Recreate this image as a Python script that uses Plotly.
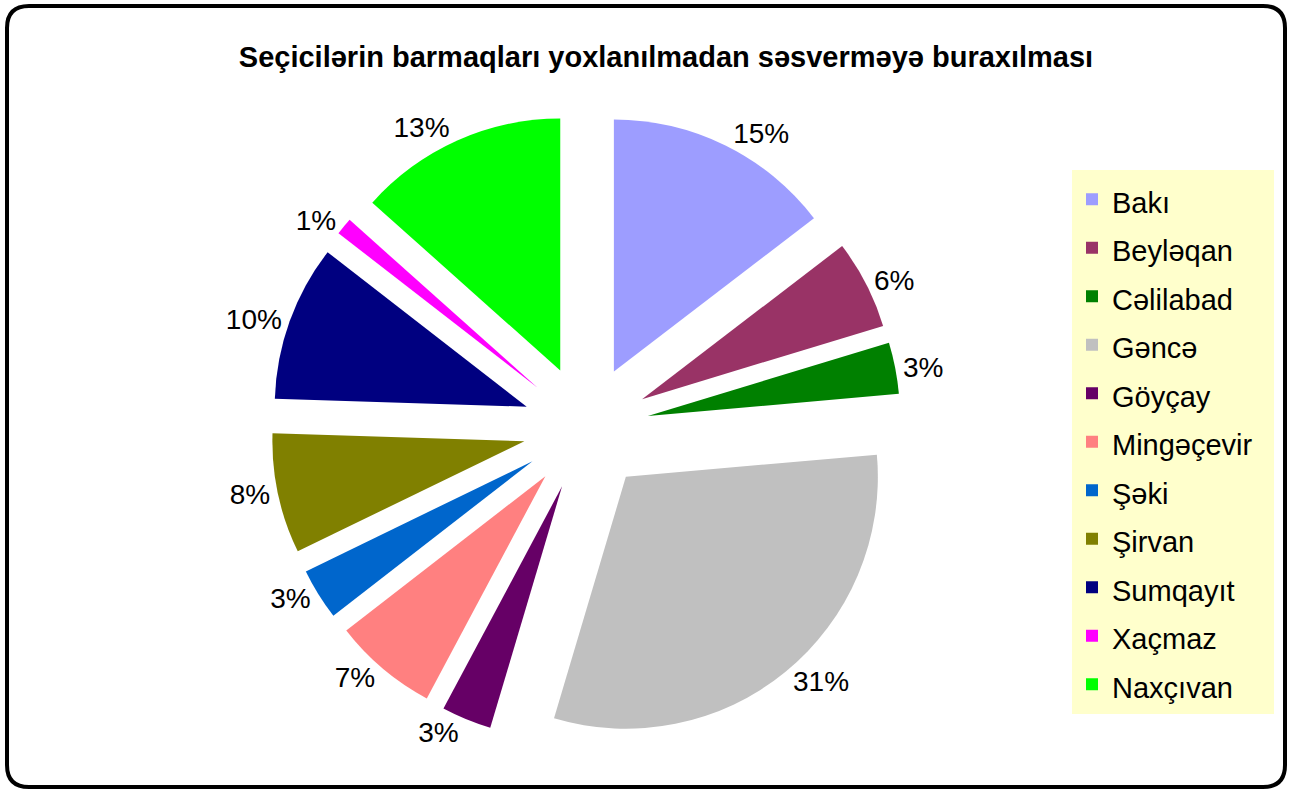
import plotly.graph_objects as go

W, H = 1291, 793

# ---- data ----
regions = ["Bakı", "Beyləqan", "Cəlilabad", "Gəncə", "Göyçay", "Mingəçevir",
           "Şəki", "Şirvan", "Sumqayıt", "Xaçmaz", "Naxçıvan"]
shares = [14.6, 5.7, 3.3, 31.0, 3.2, 6.7, 3.3, 7.7, 10.0, 1.1, 13.4]
colors = ["#9D9DFF", "#993366", "#008000", "#C0C0C0", "#660066", "#FF8080",
          "#0066CC", "#808000", "#000080", "#FF00FF", "#00FF00"]
title_text = "Seçicilərin barmaqları yoxlanılmadan səsverməyə buraxılması"

FONT = "Liberation Sans, Arial, sans-serif"


def px(x):
    return x / W


def py(y):
    return 1 - y / H


legend_labels = ["<span style='font-size:29px'>%s&nbsp;&nbsp;</span>" % r for r in regions]

fig = go.Figure()
fig.add_trace(go.Pie(
    labels=legend_labels,
    values=shares,
    marker=dict(colors=colors, line=dict(width=0)),
    sort=False,
    direction="clockwise",
    rotation=0,
    pull=[0.25] * len(shares),
    texttemplate="%{percent:.0%}",
    textposition="outside",
    textfont=dict(family=FONT, size=28, color="black"),
    domain=dict(x=[px(271), px(901)], y=[py(743), py(113)]),
    hoverinfo="label+percent",
    showlegend=True,
))

# rounded outer border
x0, y0, x1, y1 = 7, 6, 1285, 787
r = 22
path = (
    f"M {px(x0 + r)},{py(y0)} L {px(x1 - r)},{py(y0)} "
    f"Q {px(x1)},{py(y0)} {px(x1)},{py(y0 + r)} "
    f"L {px(x1)},{py(y1 - r)} Q {px(x1)},{py(y1)} {px(x1 - r)},{py(y1)} "
    f"L {px(x0 + r)},{py(y1)} Q {px(x0)},{py(y1)} {px(x0)},{py(y1 - r)} "
    f"L {px(x0)},{py(y0 + r)} Q {px(x0)},{py(y0)} {px(x0 + r)},{py(y0)} Z"
)

fig.update_layout(
    width=W, height=H,
    margin=dict(l=0, r=0, t=0, b=0, autoexpand=False),
    paper_bgcolor="white",
    plot_bgcolor="white",
    font=dict(family=FONT, color="black"),
    title=dict(
        text="<b>%s</b>" % title_text,
        x=px(666), y=py(57), xanchor="center", yanchor="middle",
        font=dict(family=FONT, size=29, color="black"),
    ),
    legend=dict(
        x=px(1072), y=py(170), xanchor="left", yanchor="top",
        bgcolor="#FFFFCC", borderwidth=0,
        font=dict(family=FONT, size=35, color="black"),
        traceorder="normal",
    ),
    shapes=[dict(type="path", xref="paper", yref="paper", path=path,
                 line=dict(color="black", width=4), layer="above")],
)

fig.write_html("out.html")
